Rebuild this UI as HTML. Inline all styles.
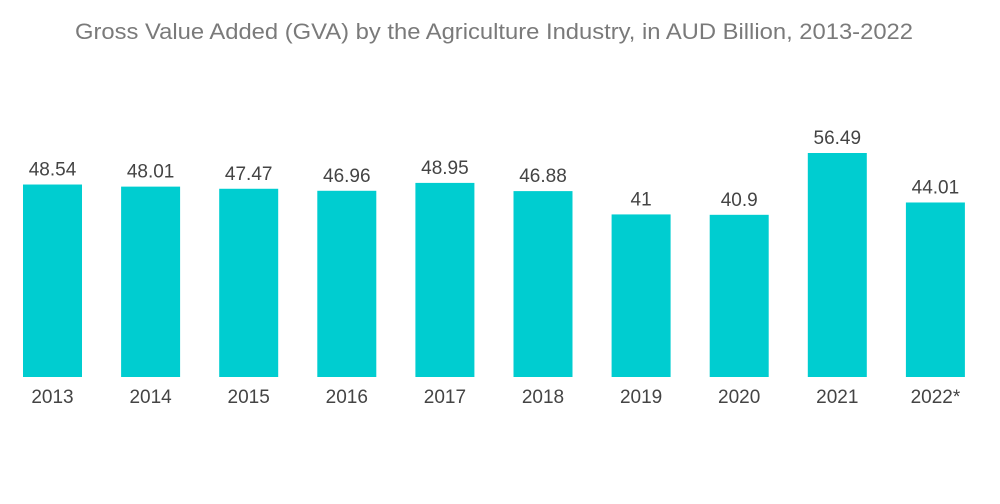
<!DOCTYPE html>
<html>
<head>
<meta charset="utf-8">
<style>
  html, body {
    margin: 0;
    padding: 0;
    background: #fff;
  }
  svg {
    display: block;
  }
  text {
    font-family: "Liberation Sans", sans-serif;
  }
</style>
</head>
<body>
<svg id="chart" width="1000" height="504" viewBox="0 0 1000 504" xmlns="http://www.w3.org/2000/svg">
  <text x="75" y="39" font-size="22" fill="#7a7a7a" textLength="838" lengthAdjust="spacingAndGlyphs">Gross Value Added (GVA) by the Agriculture Industry, in AUD Billion, 2013-2022</text>
  <g id="bars"></g>
</svg>
<script>
const categories = ["2013", "2014", "2015", "2016", "2017", "2018", "2019", "2020", "2021", "2022*"];
const values = [48.54, 48.01, 47.47, 46.96, 48.95, 46.88, 41, 40.9, 56.49, 44.01];
const valueLabels = ["48.54", "48.01", "47.47", "46.96", "48.95", "46.88", "41", "40.9", "56.49", "44.01"];

const baseline = 377;
const pxPerUnit = 224 / 56.49;
const firstCenter = 52.5;
const step = 98.1;
const barW = 59;

function xCenter(i) {
  return firstCenter + i * step;
}

function yScale(v) {
  return baseline - v * pxPerUnit;
}

const g = document.getElementById('bars');
const NS = 'http://www.w3.org/2000/svg';

categories.forEach((c, i) => {
  const cx = xCenter(i);
  const top = yScale(values[i]);

  const r = document.createElementNS(NS, 'rect');
  r.setAttribute('x', cx - barW / 2);
  r.setAttribute('y', top);
  r.setAttribute('width', barW);
  r.setAttribute('height', baseline - top);
  r.setAttribute('fill', '#00cdd0');
  
  
  g.appendChild(r);

  const t = document.createElementNS(NS, 'text');
  t.setAttribute('x', cx);
  t.setAttribute('y', top - 9);
  t.setAttribute('text-anchor', 'middle');
  t.setAttribute('font-size', '19');
  t.setAttribute('fill', '#444');
  t.textContent = valueLabels[i];
  
  
  g.appendChild(t);

  const l = document.createElementNS(NS, 'text');
  l.setAttribute('x', cx);
  l.setAttribute('y', 403);
  l.setAttribute('text-anchor', 'middle');
  l.setAttribute('font-size', '19');
  l.setAttribute('fill', '#444');
  l.textContent = c;
  
  
  g.appendChild(l);
});
</script>
</body>
</html>
